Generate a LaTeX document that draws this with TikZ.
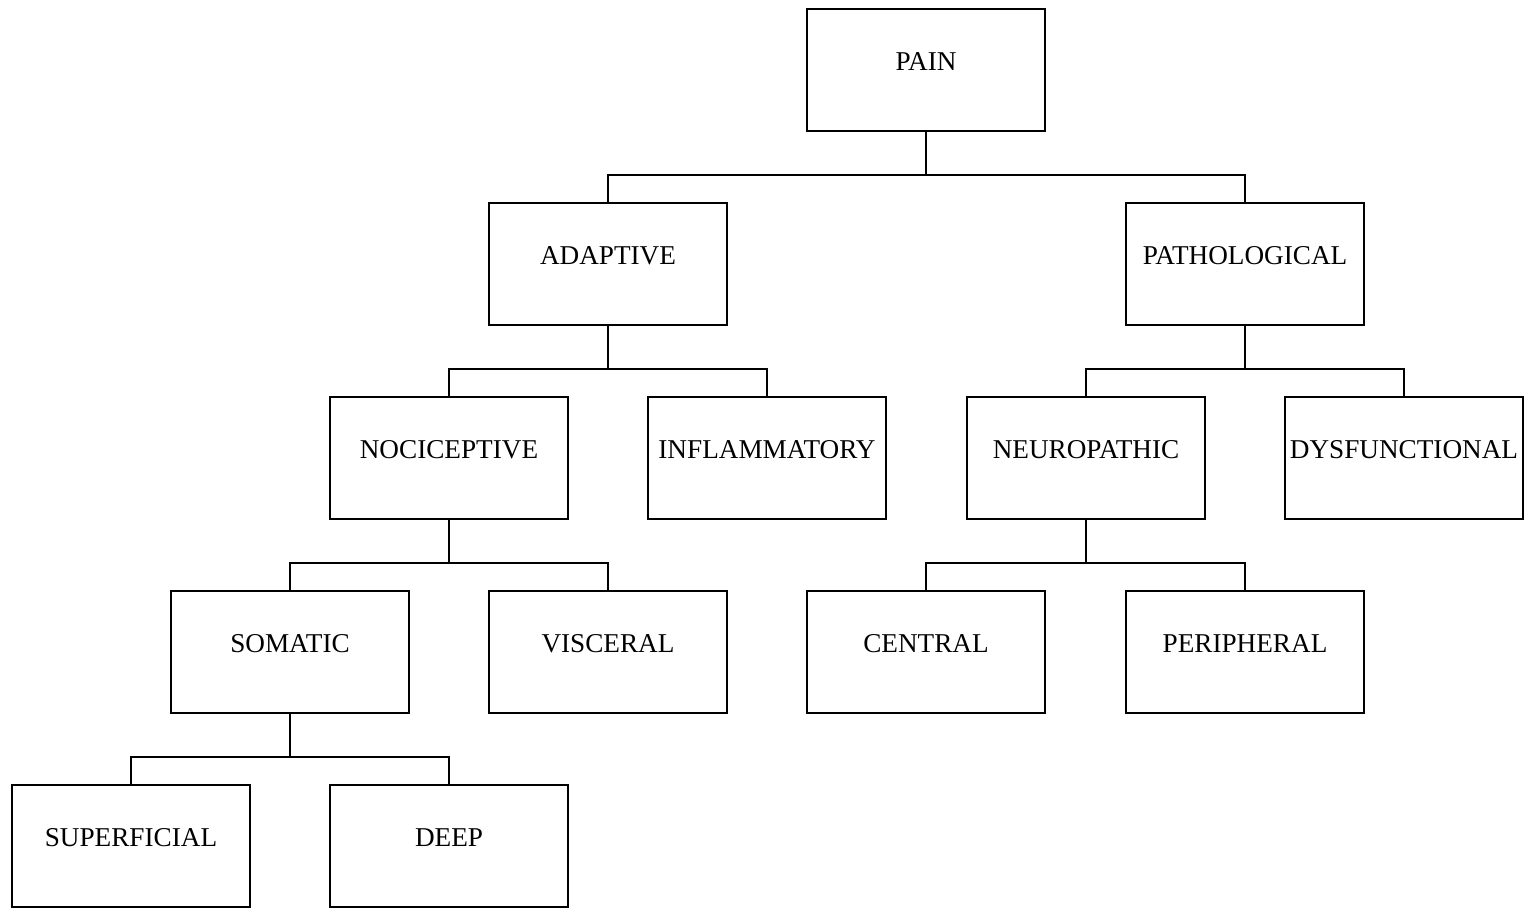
\documentclass[tikz,border=0pt]{standalone}
\usepackage{fontspec}
\setmainfont{Liberation Serif}
\begin{document}
\begin{tikzpicture}[x=1pt,y=-1pt,
  box/.style={draw=black, line width=2pt, rectangle, minimum width=238pt, minimum height=122pt, inner sep=0pt,
    font=\fontsize{27.2}{31}\selectfont, text height=20pt, text depth=20pt},
  conn/.style={draw=black, line width=2pt}]
\useasboundingbox (0,0) rectangle (1524,908);
\node[box] (pain) at (926,70) {PAIN};
\node[box] (adaptive) at (608,264) {ADAPTIVE};
\node[box] (patho) at (1245,264) {PATHOLOGICAL};
\node[box] (noci) at (449,458) {NOCICEPTIVE};
\node[box] (inflam) at (767,458) {INFLAMMATORY};
\node[box] (neuro) at (1086,458) {NEUROPATHIC};
\node[box] (dysf) at (1404,458) {DYSFUNCTIONAL};
\node[box] (somatic) at (290,652) {SOMATIC};
\node[box] (visceral) at (608,652) {VISCERAL};
\node[box] (central) at (926,652) {CENTRAL};
\node[box] (periph) at (1245,652) {PERIPHERAL};
\node[box] (superf) at (131,846) {SUPERFICIAL};
\node[box] (deep) at (449,846) {DEEP};
\foreach \p/\c in {pain/adaptive, pain/patho, adaptive/noci, adaptive/inflam,
  patho/neuro, patho/dysf, noci/somatic, noci/visceral, neuro/central, neuro/periph,
  somatic/superf, somatic/deep}
  \draw[conn] (\p.south) -- ++(0,43) -| (\c.north);
\end{tikzpicture}
\end{document}
